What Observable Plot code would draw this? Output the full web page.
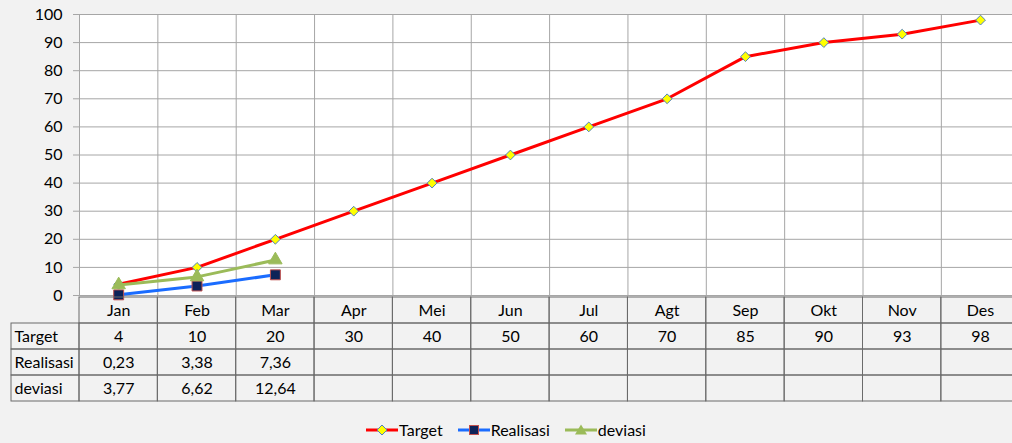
<!DOCTYPE html>
<html><head><meta charset="utf-8">
<script src="https://cdn.jsdelivr.net/npm/d3@7"></script>
<script src="https://cdn.jsdelivr.net/npm/@observablehq/plot@0.6"></script>
<style>
html,body{margin:0;padding:0;background:#f2f2f2;overflow:hidden;width:1012px;height:443px;font-family:Lato,"Open Sans",sans-serif;}
#chart,#table{position:absolute;left:0;}
#chart{top:0;} #table{top:295px;}
svg{overflow:hidden;display:block;}
#legend{position:absolute;left:0;width:1012px;top:420px;display:flex;justify-content:center;gap:15px;font-size:16px;color:#000;align-items:center;}
.item{display:flex;align-items:center;gap:1px;}
</style></head><body>
<div id="chart"></div>
<div id="table"></div>
<div id="legend"></div>
<script>
// ---- data ----
const months = ["Jan","Feb","Mar","Apr","Mei","Jun","Jul","Agt","Sep","Okt","Nov","Des"];
const target = [4,10,20,30,40,50,60,70,85,90,93,98];
const realisasi = [0.23,3.38,7.36];
const deviasi = [3.77,6.62,12.64];
const rowNames = ["Target","Realisasi","deviasi"];
const yTicks = [0,10,20,30,40,50,60,70,80,90,100];

// ---- layout ----
const PLOT_LEFT = 79, COL_W = 78.35, TABLE_LEFT = 11;
const xRange = [PLOT_LEFT, PLOT_LEFT + 12*COL_W];
const xDomain = [-0.5, 11.5];
const xs = d3.scaleLinear().domain(xDomain).range(xRange);
const hdrX1 = xs.invert(TABLE_LEFT);
const FONT = "Lato, 'Open Sans', sans-serif";
const FS = 16;

const C = {target:"#ff0000", real:"#1a6cff", dev:"#9bbb59"};
const fmt = v => String(v).replace(".", ",");

const tData = target.map((v,i)=>({i, v}));
const rData = realisasi.map((v,i)=>({i, v}));
const dData = deviasi.map((v,i)=>({i, v}));
const bounds = d3.range(months.length+1).map(i=>i-0.5);

const chart = Plot.plot({
  width:1012, height:312,
  marginTop:14, marginBottom:17, marginLeft:PLOT_LEFT, marginRight:0,
  x:{domain:xDomain, range:xRange, axis:null},
  y:{domain:[0,100], range:[295,14], axis:null},
  style:{background:"transparent", fontFamily:FONT, fontSize:FS+"px", color:"#000", overflow:"hidden"},
  marks:[
    Plot.rect([0],{x1:xDomain[0], x2:xDomain[1], y1:0, y2:100, fill:"white"}),
    Plot.ruleY(yTicks,{x1:xDomain[0], x2:xDomain[1], stroke:"#a6a6a6", strokeWidth:1}),
    Plot.ruleX(bounds,{y1:0, y2:100, stroke:"#a6a6a6", strokeWidth:1}),
    Plot.axisY(yTicks,{label:null, tickSize:6, tickPadding:11, stroke:"#a6a6a6", fill:"#000", fontSize:FS, strokeOpacity:1}),
    Plot.line(tData,{x:"i", y:"v", stroke:C.target, strokeWidth:3}),
    Plot.dot(tData,{x:"i", y:"v", symbol:"diamond2", r:4.4, fill:"#ffff00", stroke:"#4f81bd", strokeWidth:1}),
    Plot.line(rData,{x:"i", y:"v", stroke:C.real, strokeWidth:3}),
    Plot.dot(rData,{x:"i", y:"v", symbol:"square", r:5.6, fill:"#0d2358", stroke:"#c0504d", strokeWidth:1}),
    Plot.line(dData,{x:"i", y:"v", stroke:C.dev, strokeWidth:3}),
    Plot.dot(dData,{x:"i", y:"v", symbol:"triangle", r:5, fill:C.dev, stroke:C.dev, strokeWidth:1})
  ]
});
document.getElementById("chart").appendChild(chart);

// ---- data table ----
const rowKeys = ["head", ...rowNames];
const series = {Target: target, Realisasi: realisasi, deviasi: deviasi};
const cells = [];
rowNames.forEach(r => months.forEach((m,i) => cells.push({row:r, i, v: series[r][i]})));
const headCells = months.map((m,i)=>({m, i}));
const table = Plot.plot({
  width:1012, height:108,
  marginTop:0, marginBottom:0, marginLeft:0, marginRight:0,
  x:{domain:xDomain, range:xRange, axis:null},
  y:{domain:rowKeys, range:[0.5,107], padding:0, axis:null},
  style:{background:"transparent", fontFamily:FONT, fontSize:FS+"px", color:"#000", overflow:"hidden"},
  marks:[
    Plot.barX(headCells,{x1:d=>d.i-0.5, x2:d=>d.i+0.5, y:()=>"head", fill:"none", stroke:"#6b6b6b"}),
    Plot.barX(cells,{x1:d=>d.i-0.5, x2:d=>d.i+0.5, y:"row", fill:"none", stroke:"#6b6b6b"}),
    Plot.barX(rowNames,{x1:hdrX1, x2:xDomain[0], y:d=>d, fill:"none", stroke:"#6b6b6b"}),
    Plot.text(headCells,{x:"i", y:()=>"head", text:"m", fill:"#000", fontSize:FS}),
    Plot.text(cells.filter(d=>d.v!==undefined),{x:"i", y:"row", text:d=>fmt(d.v), fill:"#000", fontSize:FS}),
    Plot.text(rowNames,{x:hdrX1, y:d=>d, text:d=>d, textAnchor:"start", dx:3, fill:"#000", fontSize:FS})
  ]
});
document.getElementById("table").appendChild(table);

// ---- legend ----
const legendItems = [
  {name:"Target", color:C.target, marker:'<path d="M16,2 L21,7 L16,12 L11,7 Z" fill="#ffff00" stroke="#4f81bd"/>'},
  {name:"Realisasi", color:C.real, marker:'<rect x="11.5" y="2.5" width="9" height="9" fill="#0d2358" stroke="#c0504d"/>'},
  {name:"deviasi", color:C.dev, marker:'<path d="M16,1.5 L22,11.5 L10,11.5 Z" fill="#9bbb59"/>'}
];
const lg = document.getElementById("legend");
legendItems.forEach(it=>{
  const d = document.createElement("div"); d.className="item";
  d.innerHTML = `<svg width="32" height="14"><line x1="0" x2="32" y1="7" y2="7" stroke="${it.color}" stroke-width="3"/>${it.marker}</svg><span>${it.name}</span>`;
  lg.appendChild(d);
});
</script>
</body></html>
